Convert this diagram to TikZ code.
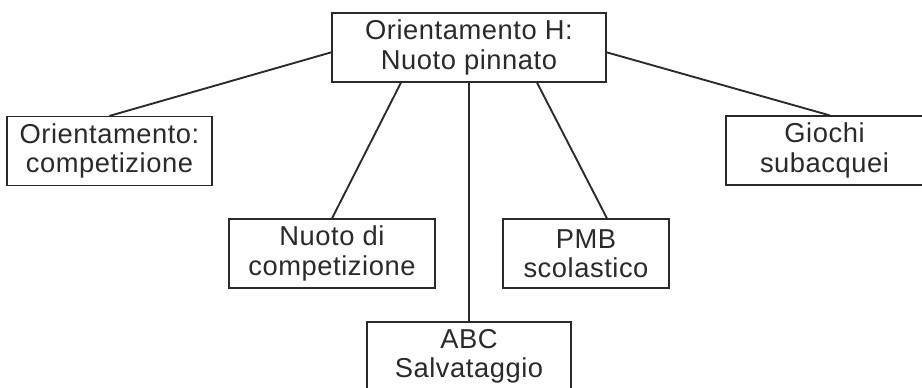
\documentclass[tikz,border=0pt]{standalone}
\usepackage{fontspec}
\setmainfont[LetterSpace=2]{Liberation Sans}
\usetikzlibrary{calc}
\definecolor{ink}{HTML}{2A2A2A}
\begin{document}
\begin{tikzpicture}[x=0.75pt,y=-0.75pt,
  box/.style={draw=ink,line width=0.9pt,rectangle,inner sep=0pt,align=center,
    text=ink,font=\fontsize{20.5}{22}\selectfont,minimum height=51.75pt},
  link/.style={draw=ink,line width=1.4pt}]
\useasboundingbox[fill=white] (0,0) rectangle (922,388);
\node[box,minimum width=205.5pt] (top) at (469,47.5) {Orientamento H:\\Nuoto pinnato};
\node[box,minimum width=153.75pt] (oc) at (109.5,151) {Orientamento:\\competizione};
\node[box,minimum width=154.5pt] (nc) at (332,253.5) {Nuoto di\\competizione};
\node[box,minimum width=153pt] (abc) at (469,356.5) {ABC\\Salvataggio};
\node[box,minimum width=124.5pt] (pmb) at (586,253.5) {PMB\\scolastico};
\node[box,minimum width=147.75pt] (gs) at (824.5,150.5) {Giochi\\subacquei};
\draw[link] (top.182.3) -- (oc.north);
\draw[link] (top.358.1) -- ([xshift=4pt]gs.north);
\draw[link] ([xshift=-51pt]top.south) -- (nc.north);
\draw[link] (top.south) -- (abc.north);
\draw[link] ([xshift=51pt]top.south) -- ([xshift=15.75pt]pmb.north);
\end{tikzpicture}
\end{document}
